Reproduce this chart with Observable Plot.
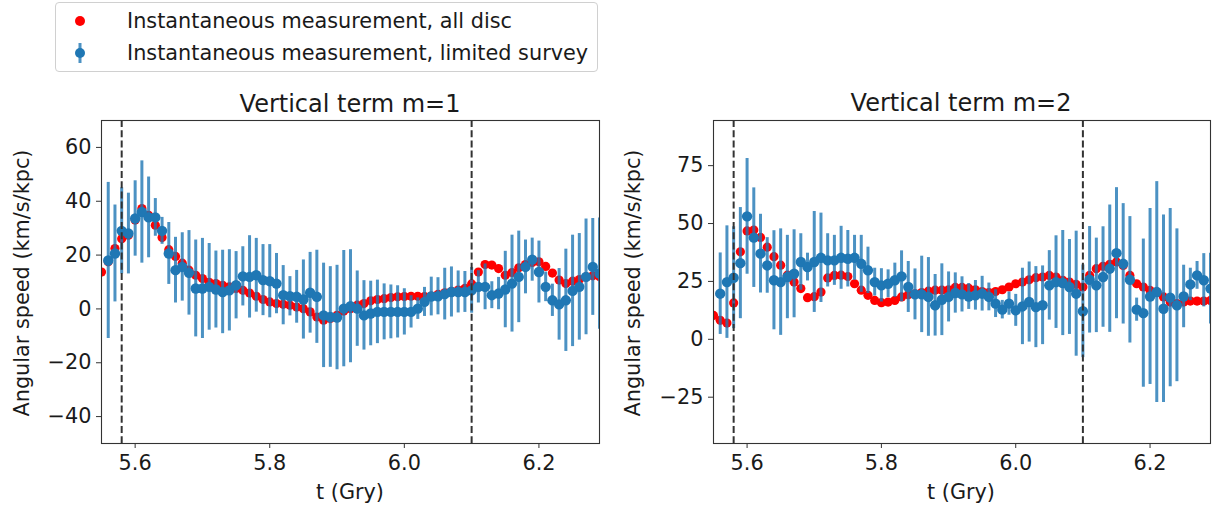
<!DOCTYPE html>
<html>
<head>
<meta charset="utf-8">
<script src="https://cdn.jsdelivr.net/npm/d3@7"></script>
<script src="https://cdn.jsdelivr.net/npm/@observablehq/plot@0.6"></script>
<style>
  html, body { margin: 0; padding: 0; background: #fff; }
  #page { position: relative; width: 1215px; height: 511px; overflow: hidden; font-family: "DejaVu Sans", sans-serif; color: #1a1a1a; }
  .abs { position: absolute; white-space: nowrap; }
  .title { font-size: 24px; transform: translate(-50%, -50%); }
  .xlabel { font-size: 20.8px; transform: translate(-50%, -50%); }
  .ylabel { font-size: 20.8px; transform: translate(-50%, -50%) rotate(-90deg); }
  #legend { left: 55px; top: 2px; width: 541px; height: 68px; border: 1px solid #d0d0d0; border-radius: 4px; background: #fff; }
  .legtext { font-size: 20.8px; left: 71px; transform: translateY(-50%); }
</style>
</head>
<body>
<div id="page">
  <div id="left" class="abs" style="left:0px; top:110px;"></div>
  <div id="right" class="abs" style="left:608px; top:110px;"></div>
  <div class="abs title" style="left:350px; top:104px;">Vertical term m=1</div>
  <div class="abs title" style="left:961px; top:103px;">Vertical term m=2</div>
  <div class="abs xlabel" style="left:350px; top:492px;">t (Gry)</div>
  <div class="abs xlabel" style="left:961px; top:492px;">t (Gry)</div>
  <div class="abs ylabel" style="left:22px; top:283px;">Angular speed (km/s/kpc)</div>
  <div class="abs ylabel" style="left:633px; top:283px;">Angular speed (km/s/kpc)</div>
  <div id="legend" class="abs">
    <svg class="abs" style="left:0; top:0;" width="60" height="68">
      <circle cx="24" cy="18" r="5" fill="red"></circle>
      <line x1="24" y1="40" x2="24" y2="60" stroke="#1f77b4" stroke-opacity="0.8" stroke-width="3"></line>
      <circle cx="24" cy="50" r="5" fill="#1f77b4"></circle>
    </svg>
    <div class="abs legtext" style="top:18px;">Instantaneous measurement, all disc</div>
    <div class="abs legtext" style="top:50px;">Instantaneous measurement, limited survey</div>
  </div>
</div>
<script>
// ---- data ----
const tRed = [5.55,5.56,5.57,5.58,5.59,5.60,5.61,5.62,5.63,5.64,5.65,5.66,5.67,5.68,5.69,5.70,5.71,5.72,5.73,5.74,
  5.75,5.76,5.77,5.78,5.79,5.80,5.81,5.82,5.83,5.84,5.85,5.86,5.87,5.88,5.89,5.90,5.91,5.92,5.93,5.94,
  5.95,5.96,5.97,5.98,5.99,6.00,6.01,6.02,6.03,6.04,6.05,6.06,6.07,6.08,6.09,6.10,6.11,6.12,6.13,6.14,
  6.15,6.16,6.17,6.18,6.19,6.20,6.21,6.22,6.23,6.24,6.25,6.26,6.27,6.28,6.29];
const tBlue = [5.56,5.57,5.58,5.59,5.60,5.61,5.62,5.63,5.64,5.65,5.66,5.67,5.68,5.69,5.70,5.71,5.72,5.73,5.74,
  5.75,5.76,5.77,5.78,5.79,5.80,5.81,5.82,5.83,5.84,5.85,5.86,5.87,5.88,5.89,5.90,5.91,5.92,5.93,5.94,
  5.95,5.96,5.97,5.98,5.99,6.00,6.01,6.02,6.03,6.04,6.05,6.06,6.07,6.08,6.09,6.10,6.11,6.12,6.13,6.14,
  6.15,6.16,6.17,6.18,6.19,6.20,6.21,6.22,6.23,6.24,6.25,6.26,6.27,6.28,6.29];

// Vertical term m=1
const m1Red = [13.7,17.5,22.4,26.1,27.4,33.0,37.3,34.8,31.1,26.5,
  22.0,19.5,17.0,14.4,12.5,11.3,9.9,9.4,8.8,8.2,
  7.6,6.9,5.9,4.7,3.5,2.6,2.0,1.7,1.4,0.7,
  0.1,-1.1,-3.0,-4.2,-3.6,-2.4,-0.8,0.1,1.4,2.0,
  3.0,3.5,3.8,4.2,4.5,4.6,4.7,4.7,4.6,4.8,
  5.4,6.0,6.5,7.0,7.6,9.3,13.7,16.5,16.3,15.0,
  12.5,13.5,15.3,16.5,17.2,17.5,15.8,13.3,10.7,9.4,
  10.3,10.9,11.9,12.3,12.0];
const m1Blue = [18,20.6,29,28,33.6,36,34,34,29,20.6,
  14.4,15.6,13.4,7.6,7.6,8.2,7.2,6.3,6.9,8.8,
  12.1,11.9,12.5,10.7,10.3,9.4,5.1,4.7,4.5,3.5,
  6.0,4.5,-2.4,-3.0,-3.2,0.1,1.0,0.1,-2.4,-1.7,
  -1.1,-1.1,-1.1,-1.1,-1.1,-1.1,0.1,2.6,4.6,4.7,
  5.5,6.3,6.3,6.3,6.9,8.2,8.2,5.1,5.7,7.2,
  9.4,11.9,15.6,18.3,13.7,8.2,3.2,1.7,3.2,6.7,
  8.2,11.9,15.6,13.1];
const m1Err = [29,18,16,15,14,19,15,7,5,11.5,
  12.2,12.7,15.7,18,18.6,16.1,14.3,15.5,15.1,12.5,
  11,15.3,13.7,13.2,13.6,11.2,11,7.3,9.8,14.7,
  15,17.3,19.4,18.7,19.4,21.6,21,14,12.9,12,
  11.8,10.4,10,9.7,8.6,6,4,5.4,7.2,6.9,
  9.6,9.3,7.8,7.6,8.5,6,8.5,5,6,14.2,
  18,17,10,8,11.5,5.5,6,13.3,19,20.7,
  19.8,21.5,18,20.7];

// Vertical term m=2
const m2Red = [10.3,8.2,7.0,15.7,37.8,46.8,47.2,44.0,39.8,35.7,
  32.0,27.7,24.7,21.9,18.0,18.4,20.4,26.5,27.6,27.7,
  27.1,24.0,21.2,19.0,16.8,15.8,16.1,16.8,18.3,19.2,
  19.6,20.2,20.8,21.2,21.2,21.4,22.4,22.4,22.0,21.4,
  20.6,20.2,20.6,21.4,22.6,24.0,24.7,25.7,26.6,26.9,
  27.6,26.9,25.5,24.7,23.7,22.6,27.6,30.5,31.5,32.4,
  33.4,31.9,27.6,24.0,22.6,21.1,20.4,18.3,16.1,15.4,
  16.1,16.5,16.5,16.5,16.8];
const m2Blue = [19.7,24.7,26.6,32.9,53.1,43.9,37.0,31.9,25.5,24.7,
  26.9,28.3,33.4,31.2,33.4,35.2,34.1,34.1,35.2,34.8,
  35.2,32.6,29.8,24.7,23.3,24.0,25.5,27.2,22.6,19.4,
  19.4,18.3,14.7,17.1,18.3,20.0,19.4,18.5,19.0,19.7,
  18.3,15.4,12.8,15.4,12.5,14.2,16.1,13.9,14.7,23.3,
  24.7,24.3,22.6,19.7,12.1,25.7,23.3,26.9,30.5,37.2,
  32.6,25.7,12.8,11.3,18.5,20.4,13.2,18.0,14.7,18.5,
  23.7,27.6,25.5,21.9];
const m2Err = [17.6,24.3,22,24,25,21.5,17,12,21.4,23,
  18,19,12.2,6,21.8,19.3,11.5,10.8,13.6,12.2,
  9.7,12.3,10,6,7.2,6,7.4,11,11,11,
  16.5,17,13.3,15.5,10.8,8.7,7.6,5.6,6.4,7.5,
  6,6,4,5,6.9,16.5,17.3,17.5,17,15,
  20,22.7,20.5,27,20,23,20.4,21.7,27.5,28.3,
  26,27.3,5,32,38,47.7,40.5,38.5,33,13.5,
  7,6,11.5,15.3];

const markerLines = [5.58, 6.10];
const xTicks = [5.6, 5.8, 6.0, 6.2];
const m1YTicks = [-40, -20, 0, 20, 40, 60];
const m2YTicks = [-25, 0, 25, 50, 75];

// ---- build ----
const BLUE = "#1f77b4";
function panel(redV, blueV, errV, yDomain, yTicks, width, mLeft, mRight) {
  const red = tRed.map((t, i) => ({t, v: redV[i]}));
  const blue = tBlue.map((t, i) => ({t, v: blueV[i], e: errV[i]}));
  return Plot.plot({
    width, height: 400,
    marginLeft: mLeft, marginRight: mRight, marginTop: 10, marginBottom: 67,
    x: {domain: [5.55, 6.29]},
    y: {domain: yDomain},
    style: {fontFamily: "DejaVu Sans, sans-serif", fontSize: "20.8px", color: "#1a1a1a", background: "#fff", overflow: "visible"},
    marks: [
      Plot.dot(red, {x: "t", y: "v", r: 4.6, fill: "red", clip: true}),
      Plot.ruleX(blue, {x: "t", y1: d => d.v - d.e, y2: d => d.v + d.e, stroke: BLUE, strokeOpacity: 0.8, strokeWidth: 3, clip: true}),
      Plot.dot(blue, {x: "t", y: "v", r: 5.2, fill: BLUE, clip: true}),
      Plot.ruleX(markerLines, {stroke: "#333", strokeWidth: 2, strokeDasharray: "7,3.2"}),
      Plot.frame({stroke: "#333", strokeWidth: 1.1}),
      Plot.axisX({ticks: xTicks, tickFormat: d3.format(".1f"), tickSize: 5, tickPadding: 7, label: null, fontSize: 20.8, stroke: "#333"}),
      Plot.axisY({ticks: yTicks, tickSize: 5, tickPadding: 5, label: null, fontSize: 20.8, stroke: "#333"})
    ]
  });
}
document.getElementById("left").appendChild(panel(m1Red, m1Blue, m1Err, [-50, 70], m1YTicks, 605, 101, 6));
document.getElementById("right").appendChild(panel(m2Red, m2Blue, m2Err, [-45, 94.5], m2YTicks, 607, 105, 5));
</script>
</body>
</html>
